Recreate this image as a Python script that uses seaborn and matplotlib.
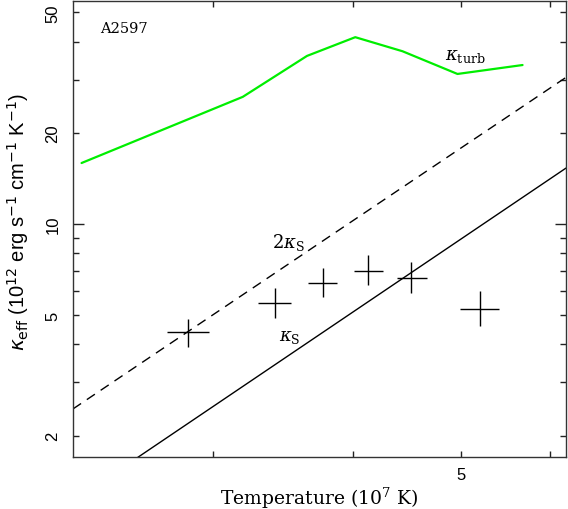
import numpy as np
import pandas as pd
import matplotlib
matplotlib.use('Agg')
import matplotlib.pyplot as plt
import matplotlib.ticker as mticker
import seaborn as sns

# kappa_turb curve (green)
turb_T = [2.29, 3.19, 3.64, 4.02, 4.43, 4.96, 5.67]
turb_k = [15.9, 26.3, 35.9, 41.4, 37.2, 31.3, 33.5]

# Spitzer lines, endpoints
spitzer_T = [2.25, 6.2]
kappa_s = [1.215, 15.3]
two_kappa_s = [2.45, 30.5]

# measured kappa_eff with error ranges
T = [2.85, 3.41, 3.76, 4.13, 4.51, 5.19]
T_lo = [2.73, 3.29, 3.65, 4.01, 4.38, 4.99]
T_hi = [2.975, 3.52, 3.87, 4.26, 4.66, 5.40]
k_eff = [4.39, 5.49, 6.39, 7.01, 6.62, 5.23]
k_lo = [3.93, 4.89, 5.73, 6.29, 5.92, 4.59]
k_hi = [4.86, 6.15, 7.16, 7.90, 7.51, 6.02]

x_ticks = [3, 4, 5, 6]
x_ticklabels = ['', '', '5', '']
y_labeled = [2, 5, 10, 20, 50]

sns.set_style('ticks')
plt.rcParams['font.family'] = ['Liberation Sans', 'DejaVu Sans']
plt.rcParams['text.color'] = 'black'
plt.rcParams['axes.labelcolor'] = 'black'
plt.rcParams['xtick.labelcolor'] = 'black'
plt.rcParams['ytick.labelcolor'] = 'black'

fig = plt.figure(figsize=(5.68, 5.10), dpi=100)
ax = fig.add_axes([0.1285, 0.102, 0.868, 0.894])
ax.set_xscale('log')
ax.set_yscale('log')

turb = pd.DataFrame({'T': turb_T, 'k': turb_k})
sns.lineplot(data=turb, x='T', y='k', color='#00ee00', lw=1.6, ax=ax,
             estimator=None, sort=False)
sp = pd.DataFrame({'T': spitzer_T, 'k1': kappa_s, 'k2': two_kappa_s})
sns.lineplot(data=sp, x='T', y='k1', color='black', lw=1.0, ax=ax, estimator=None)
sns.lineplot(data=sp, x='T', y='k2', color='black', lw=1.0, ax=ax, estimator=None,
             dashes=False, linestyle=(0, (7, 5)))

T_a = np.array(T); k_a = np.array(k_eff)
ax.errorbar(T_a, k_a,
            xerr=[T_a - np.array(T_lo), np.array(T_hi) - T_a],
            yerr=[k_a - np.array(k_lo), np.array(k_hi) - k_a],
            fmt='none', ecolor='black', elinewidth=1.0, capsize=0)

ax.set_xlim(2.25, 6.2)
ax.set_ylim(1.70, 54.5)

ax.xaxis.set_major_locator(mticker.FixedLocator(x_ticks))
ax.xaxis.set_major_formatter(mticker.FixedFormatter(x_ticklabels))
ax.xaxis.set_minor_locator(mticker.NullLocator())

ax.yaxis.set_major_locator(mticker.FixedLocator([10]))
ax.yaxis.set_major_formatter(mticker.FixedFormatter(['10']))
minors = [2, 3, 4, 5, 6, 7, 8, 9, 20, 30, 40, 50]
ax.yaxis.set_minor_locator(mticker.FixedLocator(minors))
ax.yaxis.set_minor_formatter(mticker.FuncFormatter(
    lambda v, p: f'{v:g}' if round(v) in y_labeled else ''))

ax.tick_params(which='both', direction='in', top=True, right=True,
               width=1.0, color='#222222', labelsize=12)
ax.tick_params(axis='x', which='major', length=4, pad=7)
ax.tick_params(axis='y', which='major', length=8, pad=9)
ax.tick_params(axis='y', which='minor', length=4, pad=9)
for lab in ax.get_yticklabels(which='both'):
    lab.set_rotation(90)
    lab.set_va('center')

for s in ax.spines.values():
    s.set_color('#333333')
    s.set_linewidth(1.0)

ax.set_xlabel(r'Temperature (10$^7$ K)', family='DejaVu Serif', fontsize=13.5,
              math_fontfamily='dejavuserif', labelpad=2)
ax.set_ylabel(r'$\kappa_{\rm eff}$ (10$^{12}$ erg s$^{-1}$ cm$^{-1}$ K$^{-1}$)',
              fontsize=14.5, math_fontfamily='dejavusans')
ax.yaxis.set_label_coords(-0.086, 0.518)

ax.text(0.055, 0.941, 'A2597', transform=ax.transAxes, family='DejaVu Serif',
        fontsize=10.5, ha='left', va='center')
ax.text(4.83, 35.9, r'$\kappa_{\rm turb}$', fontsize=13, ha='left', va='center',
        math_fontfamily='dejavuserif')
ax.text(3.39, 8.73, r'$2\kappa_{\rm S}$', fontsize=13, ha='left', va='center',
        math_fontfamily='dejavuserif')
ax.text(3.44, 4.24, r'$\kappa_{\rm S}$', fontsize=13, ha='left', va='center',
        math_fontfamily='dejavuserif')

fig.savefig('out.png', dpi=100)
